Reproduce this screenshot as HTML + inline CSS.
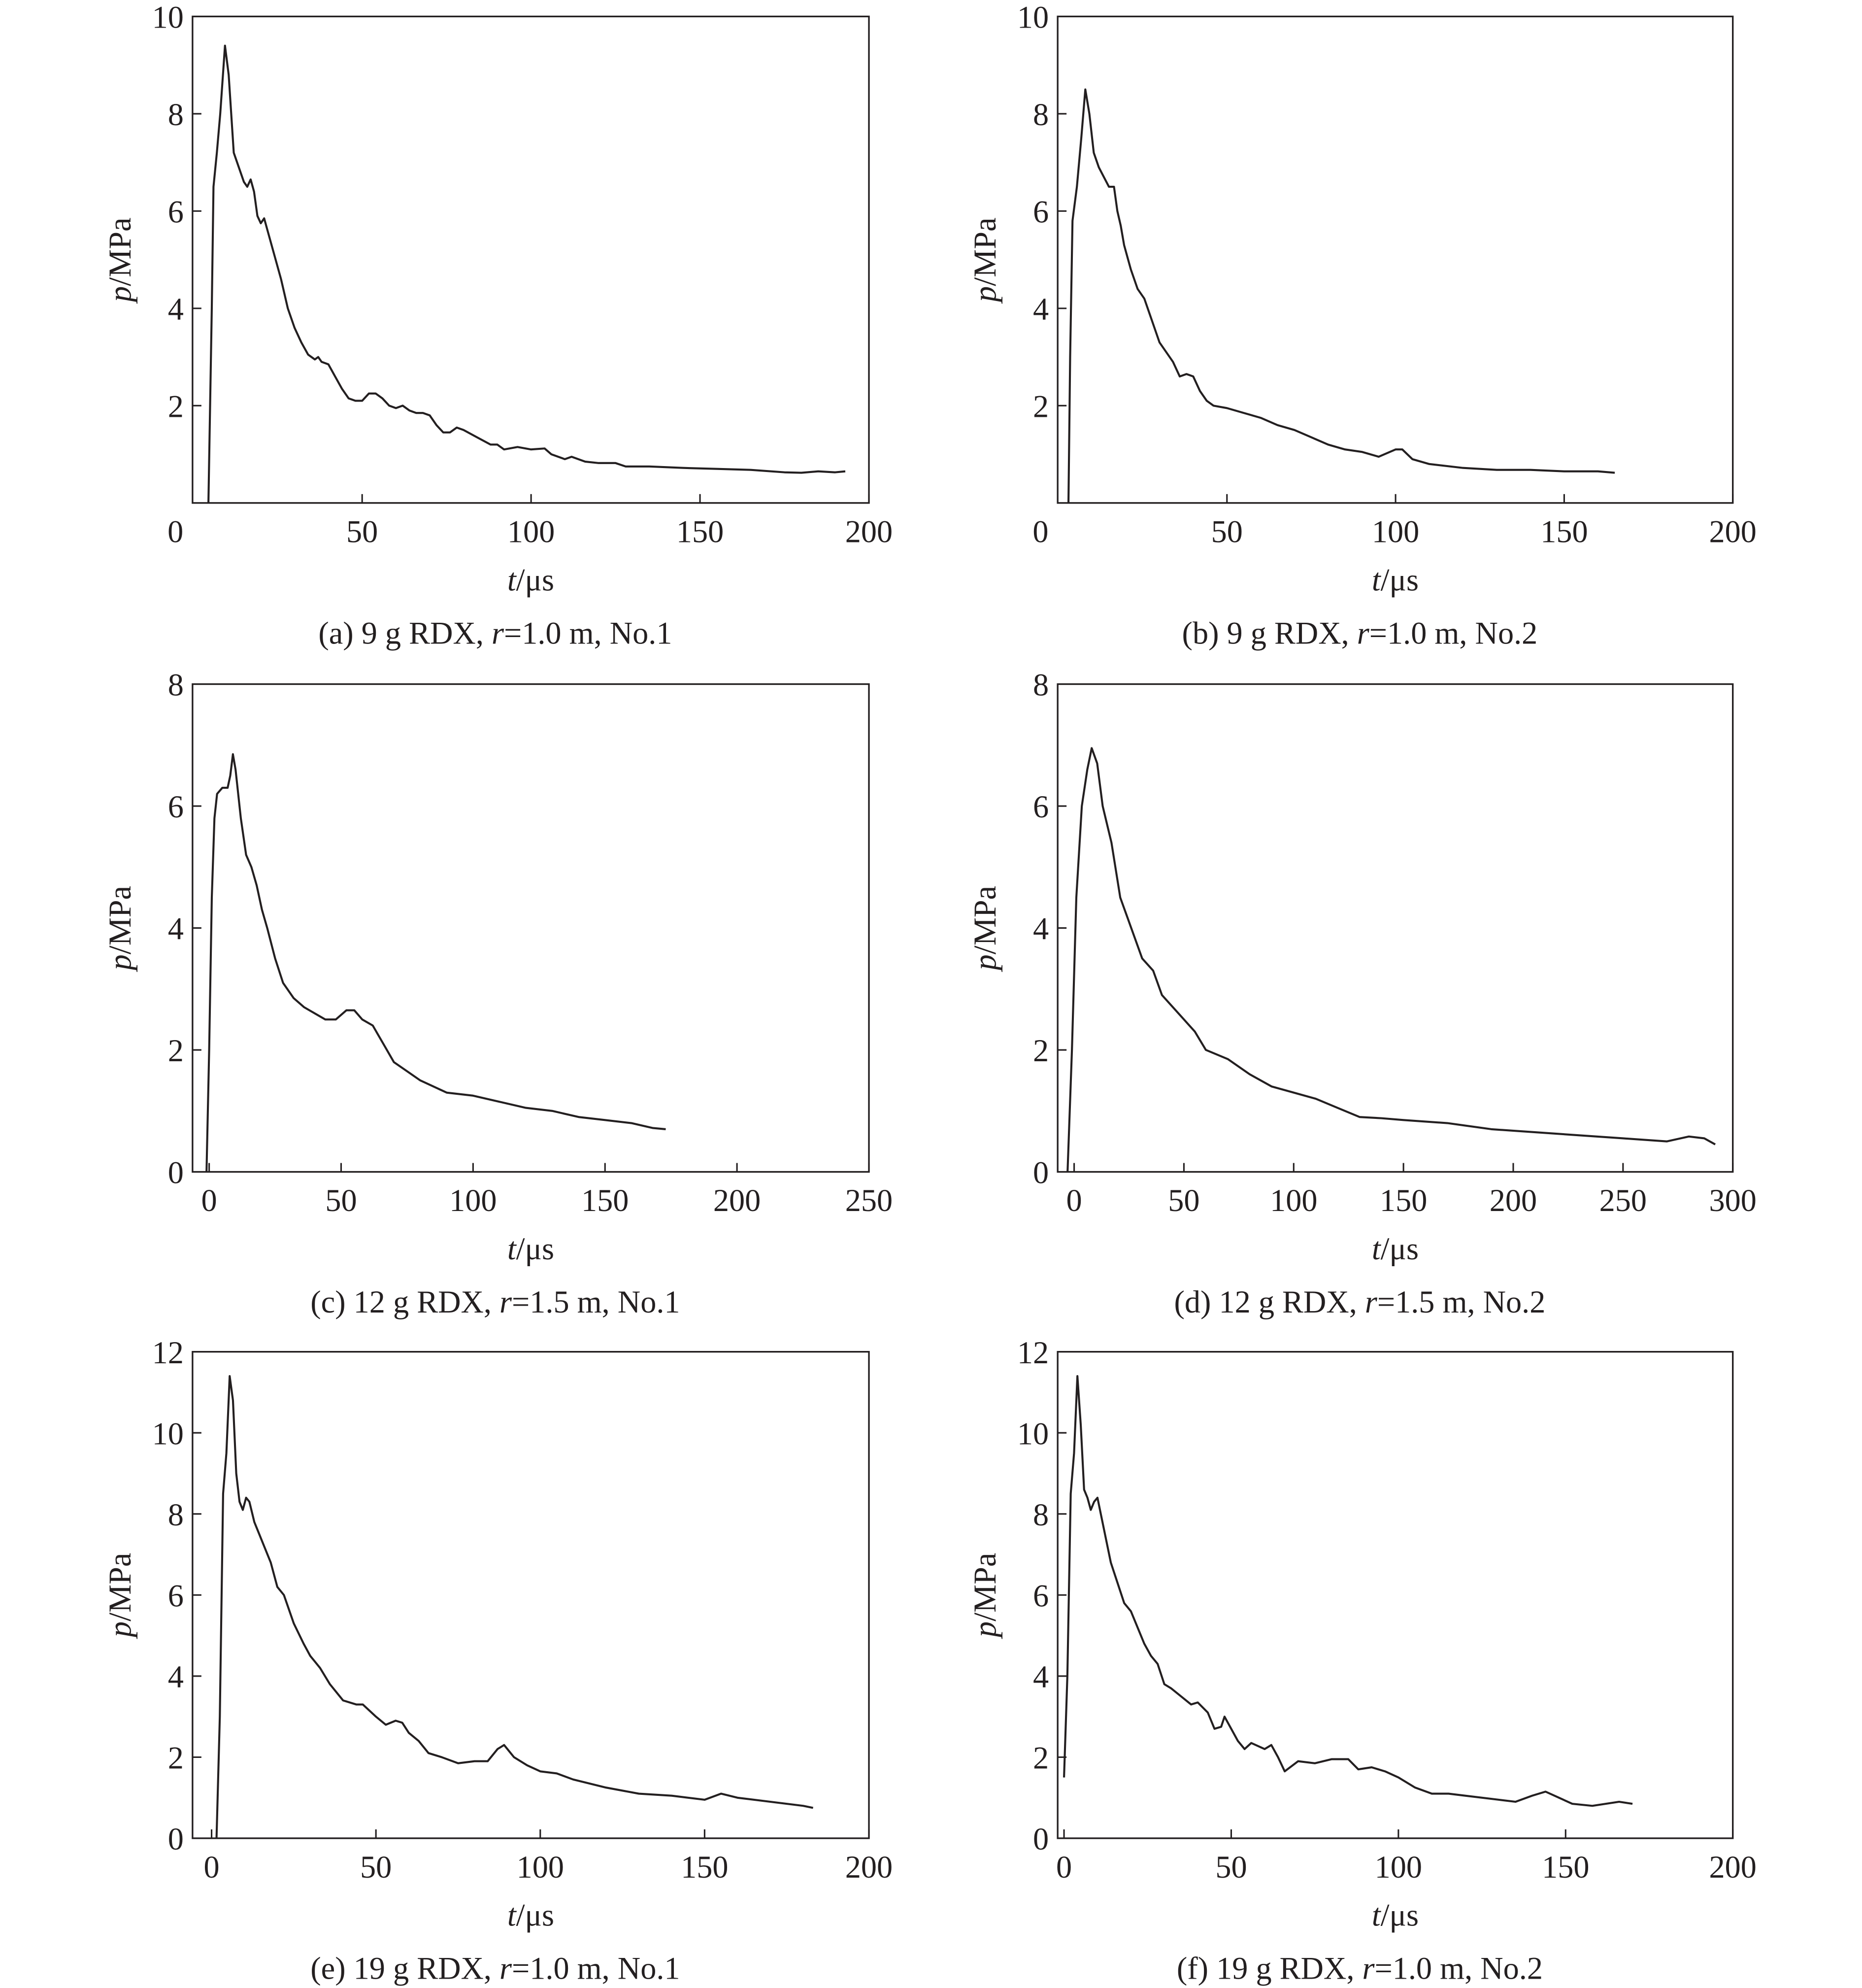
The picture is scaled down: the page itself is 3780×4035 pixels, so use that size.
<!DOCTYPE html>
<html><head><meta charset="utf-8">
<style>
html,body{margin:0;padding:0;background:#fff;}
svg{display:block;}
text{font-family:"Liberation Serif",serif;fill:#231f20;}
</style></head>
<body>
<svg id="fig" width="3780" height="4035" viewBox="0 0 1470 1569.2" preserveAspectRatio="none" xmlns="http://www.w3.org/2000/svg"></svg>
<script>
// ---- data (t in µs, p in MPa) ----
const tA=[4.5,5.5,6,7,8,9.4,10.5,12,13.5,15,16,17,18,19,20,21,22,24,26,28,30,32,34,36,37,38,40,42,44,46,48,50,52,54,56,58,60,62,64,66,68,70,72,74,76,78,80,84,88,90,92,96,100,104,106,110,112,116,120,125,128,135,145,155,165,175,180,185,190,193];
const pA=[0,4,6.5,7.2,8,9.4,8.8,7.2,6.9,6.6,6.5,6.65,6.4,5.9,5.75,5.85,5.6,5.1,4.6,4.0,3.6,3.3,3.05,2.95,3.0,2.9,2.85,2.6,2.35,2.15,2.1,2.1,2.25,2.25,2.15,2.0,1.95,2.0,1.9,1.85,1.85,1.8,1.6,1.45,1.45,1.55,1.5,1.35,1.2,1.2,1.1,1.15,1.1,1.12,1.0,0.9,0.95,0.85,0.82,0.82,0.75,0.75,0.72,0.7,0.68,0.63,0.62,0.65,0.63,0.65];
const tB=[3,3.5,4.2,5.5,6.8,8,9.2,10.5,12,13.5,15,16.5,17.5,18.5,19.5,21.5,23.5,25.5,27.5,30,32,34,36,38,40,42,44,46,50,55,60,65,70,75,80,85,90,95,100,102,105,110,120,130,140,150,160,165];
const pB=[0,3,5.8,6.5,7.5,8.5,8.0,7.2,6.9,6.7,6.5,6.5,6.0,5.7,5.3,4.8,4.4,4.2,3.8,3.3,3.1,2.9,2.6,2.65,2.6,2.3,2.1,2.0,1.95,1.85,1.75,1.6,1.5,1.35,1.2,1.1,1.05,0.95,1.1,1.1,0.9,0.8,0.72,0.68,0.68,0.65,0.65,0.62];
const tC=[-1,0,1,2,3,5,7,8,9,10,12,14,16,18,20,22,25,28,32,36,40,44,48,52,55,58,62,66,70,75,80,85,90,100,110,120,130,140,150,160,168,173];
const pC=[0,2,4.5,5.8,6.2,6.3,6.3,6.5,6.85,6.6,5.8,5.2,5.0,4.7,4.3,4.0,3.5,3.1,2.85,2.7,2.6,2.5,2.5,2.65,2.65,2.5,2.4,2.1,1.8,1.65,1.5,1.4,1.3,1.25,1.15,1.05,1.0,0.9,0.85,0.8,0.72,0.7];
const tD=[-3,-1,1,3.5,6,8,10.5,13,17,21,26,31,36,40,45,50,55,60,70,80,90,100,110,120,130,140,150,170,190,210,230,250,270,280,287,292];
const pD=[0,2,4.5,6,6.6,6.95,6.7,6.0,5.4,4.5,4.0,3.5,3.3,2.9,2.7,2.5,2.3,2.0,1.85,1.6,1.4,1.3,1.2,1.05,0.9,0.88,0.85,0.8,0.7,0.65,0.6,0.55,0.5,0.58,0.55,0.45];
const tE=[1.5,2.5,3.5,4.5,5.5,6.5,7.5,8.5,9.5,10.5,11.5,13,14,16,18,20,22,25,28,30,33,36,40,44,46,50,53,56,58,60,63,66,70,75,80,84,87,89,92,96,100,105,110,115,120,130,140,150,155,160,170,180,183];
const pE=[0,3,8.5,9.5,11.4,10.8,9,8.3,8.1,8.4,8.3,7.8,7.6,7.2,6.8,6.2,6.0,5.3,4.8,4.5,4.2,3.8,3.4,3.3,3.3,3.0,2.8,2.9,2.85,2.6,2.4,2.1,2.0,1.85,1.9,1.9,2.2,2.3,2.0,1.8,1.65,1.6,1.45,1.35,1.25,1.1,1.05,0.95,1.1,1.0,0.9,0.8,0.75];
const tF=[0,1,2,3,4,5,6,7,8,9,10,12,14,16,18,20,22,24,26,28,30,32,35,38,40,43,45,47,48,50,52,54,56,60,62,64,66,70,75,80,85,88,92,96,100,105,110,115,120,130,135,140,144,148,152,158,162,166,170];
const pF=[1.5,4,8.5,9.5,11.4,10.2,8.6,8.4,8.1,8.3,8.4,7.6,6.8,6.3,5.8,5.6,5.2,4.8,4.5,4.3,3.8,3.7,3.5,3.3,3.35,3.1,2.7,2.75,3.0,2.7,2.4,2.2,2.35,2.2,2.3,2.0,1.65,1.9,1.85,1.95,1.95,1.7,1.75,1.65,1.5,1.25,1.1,1.1,1.05,0.95,0.9,1.05,1.15,1.0,0.85,0.8,0.85,0.9,0.85];
const xTicksA=[0,50,100,150,200];
const xTicksC=[0,50,100,150,200,250];
const xTicksD=[0,50,100,150,200,250,300];
const yTicks10=[0,2,4,6,8,10];
const yTicks8=[0,2,4,6,8];
const yTicks12=[0,2,4,6,8,10,12];

const NS='http://www.w3.org/2000/svg';
const svg=document.getElementById('fig');
function mk(tag,attrs,parent){const e=document.createElementNS(NS,tag);for(const k in attrs)e.setAttribute(k,attrs[k]);(parent||svg).appendChild(e);return e;}
const FS=25;
const panels=[
 {id:'a',L:152,R:686,T:13,B:397,xmin:-0.2,xmax:200,ymax:10,xt:xTicksA,yt:yTicks10,t:tA,p:pA,cap:['(a) 9 g RDX, ','=1.0 m, No.1']},
 {id:'b',L:835,R:1368,T:13,B:397,xmin:-0.2,xmax:200,ymax:10,xt:xTicksA,yt:yTicks10,t:tB,p:pB,cap:['(b) 9 g RDX, ','=1.0 m, No.2']},
 {id:'c',L:152,R:686,T:540,B:925,xmin:-6.3,xmax:250,ymax:8,xt:xTicksC,yt:yTicks8,t:tC,p:pC,cap:['(c) 12 g RDX, ','=1.5 m, No.1']},
 {id:'d',L:835,R:1368,T:540,B:925,xmin:-7.5,xmax:300,ymax:8,xt:xTicksD,yt:yTicks8,t:tD,p:pD,cap:['(d) 12 g RDX, ','=1.5 m, No.2']},
 {id:'e',L:152,R:686,T:1067,B:1451,xmin:-5.8,xmax:200,ymax:12,xt:xTicksA,yt:yTicks12,t:tE,p:pE,cap:['(e) 19 g RDX, ','=1.0 m, No.1']},
 {id:'f',L:835,R:1368,T:1067,B:1451,xmin:-1.9,xmax:200,ymax:12,xt:xTicksA,yt:yTicks12,t:tF,p:pF,cap:['(f) 19 g RDX, ','=1.0 m, No.2']}
];

panels.forEach(P=>{
  const g=mk('g',{});
  
  
  const xs=v=>P.L+(v-P.xmin)/(P.xmax-P.xmin)*(P.R-P.L);
  const ys=v=>P.B-v/P.ymax*(P.B-P.T);
  const fr=mk('rect',{x:P.L,y:P.T,width:P.R-P.L,height:P.B-P.T,fill:'none',stroke:'#231f20','stroke-width':1.3},g);
  
  
  P.xt.forEach(v=>{
    const x=xs(v);
    if(v!==0||P.xmin<-1){mk('line',{x1:x,y1:P.B,x2:x,y2:P.B-7,stroke:'#231f20','stroke-width':1.2},g);}
    let lx=x; if(v===0&&P.xmin>-1) lx=x-14;
    const tx=mk('text',{x:lx,y:P.B+31,'font-size':FS,'text-anchor':'middle'},g);
    tx.textContent=v;
    
    
  });
  P.yt.forEach(v=>{
    const y=ys(v);
    if(v!==0&&v!==P.ymax) mk('line',{x1:P.L,y1:y,x2:P.L+7,y2:y,stroke:'#231f20','stroke-width':1.2},g);
    if(v===0&&P.xmin>-1) return;
    const tx=mk('text',{x:P.L-7,y:y+9,'font-size':FS,'text-anchor':'end'},g);
    tx.textContent=v;
    
    
  });
  let d='';
  P.t.forEach((t,i)=>{d+=(i?'L':'M')+xs(t).toFixed(2)+','+ys(P.p[i]).toFixed(2);});
  const ln=mk('path',{d:d,fill:'none',stroke:'#231f20','stroke-width':1.6,'stroke-linejoin':'round'},g);
  
  
  const cx=(P.L+P.R)/2;
  const yl=mk('text',{transform:'translate('+(P.L-49)+','+((P.T+P.B)/2)+') rotate(-90)','font-size':FS,'text-anchor':'middle'},g);
  yl.innerHTML='<tspan font-style="italic">p</tspan>/MPa';
  
  
  const xl=mk('text',{x:cx,y:P.B+69,'font-size':FS,'text-anchor':'middle'},g);
  xl.innerHTML='<tspan font-style="italic">t</tspan>/μs';
  
  
  const cp=mk('text',{x:cx-28,y:P.B+111,'font-size':FS,'text-anchor':'middle'},g);
  cp.innerHTML=P.cap[0]+'<tspan font-style="italic">r</tspan>'+P.cap[1];
  
  
});
</script>
</body></html>
